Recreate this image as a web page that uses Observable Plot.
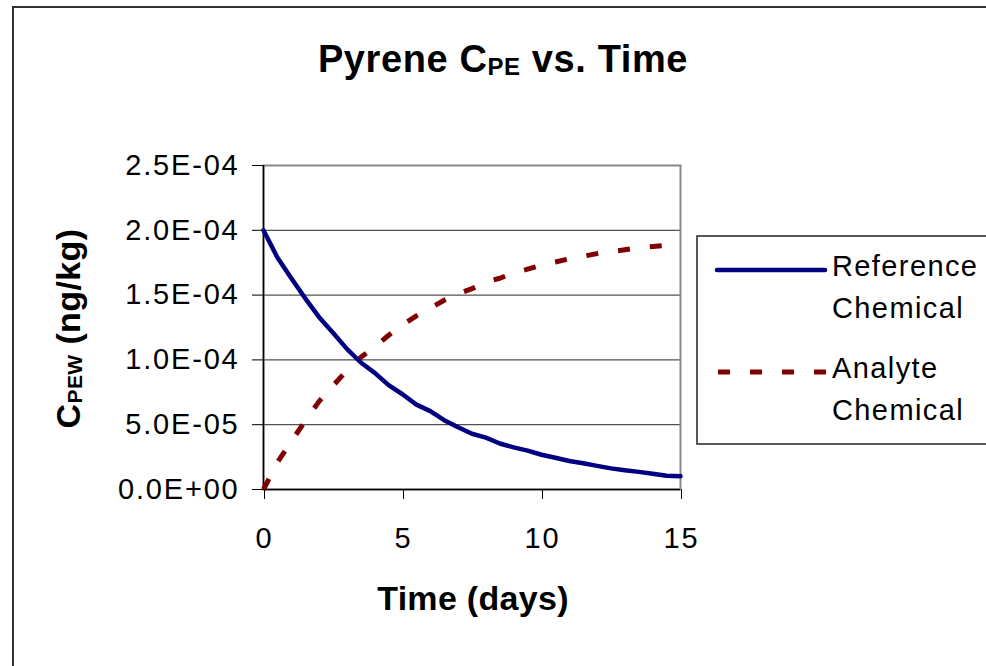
<!DOCTYPE html>
<html>
<head>
<meta charset="utf-8">
<script src="https://cdn.jsdelivr.net/npm/d3@7"></script>
<script src="https://cdn.jsdelivr.net/npm/@observablehq/plot@0.6"></script>
<style>
  html, body { margin: 0; padding: 0; background: #fff; }
  #chart { position: relative; width: 986px; height: 666px; overflow: hidden; background: #fff; }
  #chart > svg { position: absolute; left: 0; top: 0; }
  #overlay { pointer-events: none; }
  .t { font-family: "Liberation Sans", Arial, sans-serif; fill: #000; }
  .lg { letter-spacing: 1.4px; }
</style>
</head>
<body>
<div id="chart"></div>
<script>
// Time axis (days)
const days = [0, 0.5, 1, 1.5, 2, 2.5, 3, 3.5, 4, 4.5, 5, 5.5, 6, 6.5, 7, 7.5,
              8, 8.5, 9, 9.5, 10, 10.5, 11, 11.5, 12, 12.5, 13, 13.5, 14, 14.5, 15];

// Reference chemical concentration (ng/kg)
const reference = [2.0e-4, 1.79e-4, 1.63e-4, 1.475e-4, 1.33e-4, 1.21e-4, 1.085e-4, 9.8e-5,
                   9.0e-5, 8.05e-5, 7.35e-5, 6.55e-5, 6.05e-5, 5.35e-5, 4.8e-5, 4.3e-5,
                   4.0e-5, 3.55e-5, 3.25e-5, 3.0e-5, 2.68e-5, 2.45e-5, 2.2e-5, 2.02e-5,
                   1.82e-5, 1.63e-5, 1.48e-5, 1.36e-5, 1.22e-5, 1.06e-5, 1.02e-5];

// Analyte chemical concentration (ng/kg)
const analyte = [0, 2.1e-5, 3.7e-5, 5.3e-5, 6.8e-5, 8.0e-5, 9.2e-5, 1.02e-4,
                 1.1e-4, 1.19e-4, 1.27e-4, 1.34e-4, 1.4e-4, 1.46e-4, 1.51e-4, 1.55e-4,
                 1.6e-4, 1.63e-4, 1.67e-4, 1.7e-4, 1.73e-4, 1.755e-4, 1.78e-4, 1.8e-4,
                 1.82e-4, 1.835e-4, 1.85e-4, 1.865e-4, 1.875e-4, 1.885e-4, 1.89e-4];

const xTicks = [0, 5, 10, 15];
const yTicks = [0, 5e-5, 1e-4, 1.5e-4, 2e-4, 2.5e-4];

// Excel-style scientific labels: 2.5E-04, 0.0E+00
const sci = d => d.toExponential(1).toUpperCase().replace(/E([+-])(\d)$/, "E$10$2");

const refRows = days.map((t, i) => ({t, v: reference[i]}));
const anaRows = days.map((t, i) => ({t, v: analyte[i]}));

const plot = Plot.plot({
  width: 986,
  height: 666,
  marginLeft: 263,
  marginRight: 306,
  marginTop: 165,
  marginBottom: 177,
  x: {domain: [0, 15]},
  y: {domain: [0, 2.5e-4]},
  style: {
    fontFamily: "'Liberation Sans', Arial, sans-serif",
    fontSize: "29px",
    letterSpacing: "1.8px",
    color: "#000",
    background: "transparent"
  },
  marks: [
    Plot.gridY(yTicks, {stroke: "#111", strokeOpacity: 0.9, strokeWidth: 1}),
    Plot.frame({stroke: "#888", strokeWidth: 2}),
    Plot.axisY(yTicks, {tickSize: 11, tickPadding: 13, tickFormat: sci, label: null}),
    Plot.axisX(xTicks, {tickSize: 10, tickPadding: 28, tickFormat: d => String(d), label: null, dx: 1}),
    Plot.ruleX([0], {stroke: "#000", strokeWidth: 1.5}),
    Plot.ruleY([0], {stroke: "#000", strokeWidth: 1.5}),
    Plot.line(anaRows, {x: "t", y: "v", stroke: "#800000", strokeWidth: 5,
                        strokeDasharray: "12,20", strokeLinecap: "butt"}),
    Plot.line(refRows, {x: "t", y: "v", stroke: "#000080", strokeWidth: 4.5,
                        strokeLinejoin: "round", strokeLinecap: "round"})
  ]
});

const chart = document.getElementById("chart");
chart.appendChild(plot);

// Titles, legend and outer border drawn on top of the plot
const ns = "http://www.w3.org/2000/svg";
const overlay = document.createElementNS(ns, "svg");
overlay.setAttribute("id", "overlay");
overlay.setAttribute("width", 986);
overlay.setAttribute("height", 666);
overlay.innerHTML = `
  <rect x="13" y="7" width="1000" height="700" fill="none" stroke="#333" stroke-width="2"/>
  <text class="t" x="503" y="72" text-anchor="middle" font-weight="bold" font-size="38" letter-spacing="0.6">Pyrene C<tspan font-size="24" dy="3">PE</tspan><tspan dy="-3"> vs. Time</tspan></text>
  <text class="t" x="473" y="610" text-anchor="middle" font-weight="bold" font-size="34" letter-spacing="0.3">Time (days)</text>
  <text class="t" transform="translate(80,328.5) rotate(-90)" text-anchor="middle" font-weight="bold" font-size="34" letter-spacing="0.4">C<tspan font-size="21" dy="2">PEW</tspan><tspan dy="-2"> (ng/kg)</tspan></text>
  <rect x="697" y="236" width="400" height="208" fill="#fff" stroke="#222" stroke-width="1.5"/>
  <line x1="717" x2="825" y1="270" y2="270" stroke="#000080" stroke-width="4.5" stroke-linecap="round"/>
  <line x1="718" x2="826" y1="372" y2="372" stroke="#800000" stroke-width="5" stroke-dasharray="12,20"/>
  <text class="t lg" x="832" y="276" font-size="29">Reference</text>
  <text class="t lg" x="832" y="318" font-size="29">Chemical</text>
  <text class="t lg" x="832" y="378" font-size="29">Analyte</text>
  <text class="t lg" x="832" y="420" font-size="29">Chemical</text>
`;
chart.appendChild(overlay);
</script>
</body>
</html>
